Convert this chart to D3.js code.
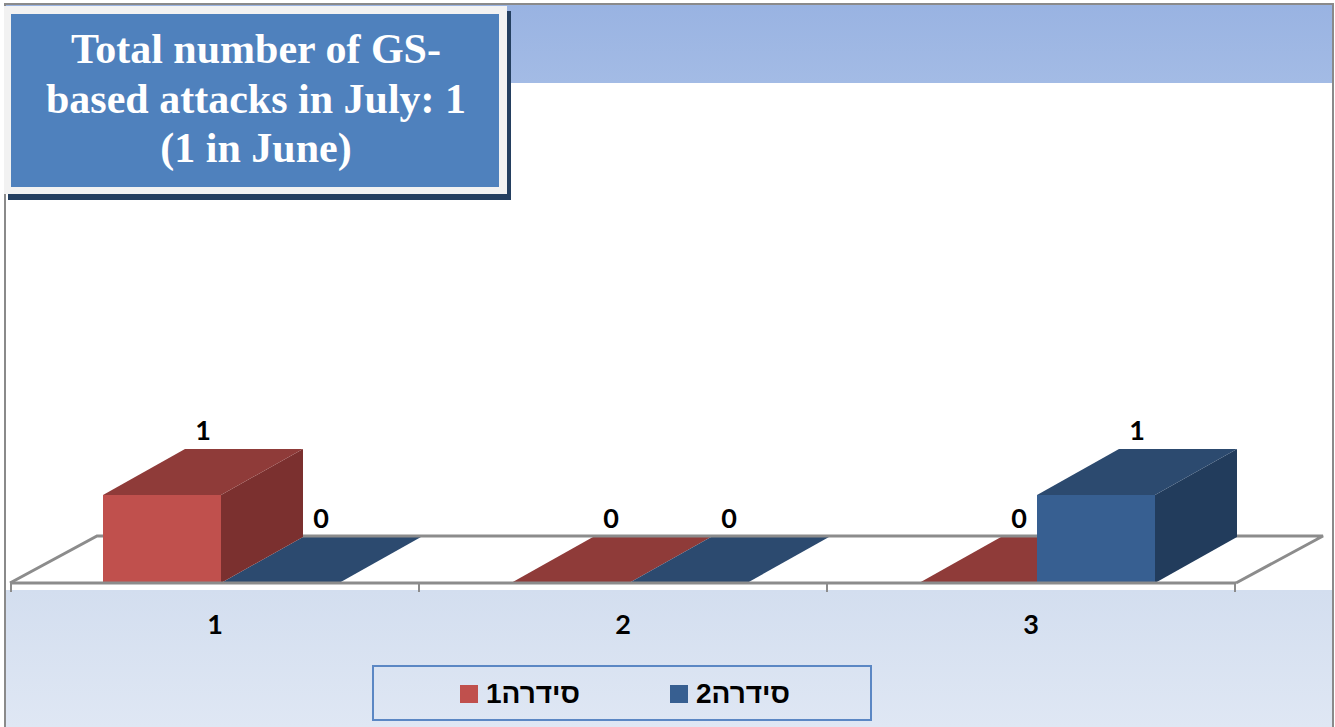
<!DOCTYPE html>
<html>
<head>
<meta charset="utf-8">
<script src="https://cdn.jsdelivr.net/npm/d3@7"></script>
<style>
  html, body { margin: 0; padding: 0; background: #ffffff; }
  svg { display: block; }
</style>
</head>
<body>
<svg id="chart" width="1335" height="727"></svg>
<script>
// ---- data ----
const categories = ["1", "2", "3"];
const seriesNames = ["סידרה1", "סידרה2"];
const series1 = [1, 0, 0];
const series2 = [0, 0, 1];
const titleLines = ["Total number of GS-", "based attacks in July: 1", "(1 in June)"];

// ---- styles ----
const faceColors = [
  { front: "#c0504d", top: "#8f3b39", side: "#7b302f" },
  { front: "#375f91", top: "#2c4a6f", side: "#223c5c" }
];
const labelFont = "Lato, 'Open Sans', sans-serif";

const svg = d3.select("#chart");
const defs = svg.append("defs");
const gTop = defs.append("linearGradient").attr("id", "gTop").attr("x1", 0).attr("y1", 0).attr("x2", 0).attr("y2", 1);
gTop.append("stop").attr("offset", "0%").attr("stop-color", "#99b3e2");
gTop.append("stop").attr("offset", "100%").attr("stop-color", "#a3bbe5");
const gBot = defs.append("linearGradient").attr("id", "gBot").attr("x1", 0).attr("y1", 0).attr("x2", 0).attr("y2", 1);
gBot.append("stop").attr("offset", "0%").attr("stop-color", "#d3deef");
gBot.append("stop").attr("offset", "100%").attr("stop-color", "#dfe7f4");

// background bands
svg.append("rect").attr("x", 6).attr("y", 5).attr("width", 1327).attr("height", 78).attr("fill", "url(#gTop)");
svg.append("rect").attr("x", 6).attr("y", 590).attr("width", 1327).attr("height", 137).attr("fill", "url(#gBot)");
// outer frame
svg.append("path").attr("d", "M5,727 V4 H1333 V727").attr("fill", "none").attr("stroke", "#8a8a8a").attr("stroke-width", 2);

// ---- scales ----
const floorY = 583;
const x0 = d3.scaleBand().domain(categories).range([11, 1235]).padding(0);
const groupW = 236;
const groupOffset = 92;
const x1 = d3.scaleBand().domain(seriesNames).range([0, groupW]).padding(0);
const y = d3.scaleLinear().domain([0, 1]).range([floorY, 495]);
const floorDepth = { dx: 87, dy: -47 };
const barDepth = { dx: 82, dy: -46 };

const gPlot = svg.append("g");

// build bar records
const bars = [];
categories.forEach((c, i) => {
  [series1, series2].forEach((vals, s) => {
    const xl = x0(c) + groupOffset + x1(seriesNames[s]);
    bars.push({ c, s, v: vals[i], xl, xr: xl + x1.bandwidth(), yt: y(vals[i]) });
  });
});

const pts = a => a.map(p => p.join(",")).join(" ");

// flat (zero) bars: top face on the floor
gPlot.selectAll("polygon.flat").data(bars.filter(b => b.v === 0)).enter()
  .append("polygon").attr("class", "flat")
  .attr("points", b => pts([[b.xl, floorY], [b.xr, floorY], [b.xr + barDepth.dx, floorY + barDepth.dy], [b.xl + barDepth.dx, floorY + barDepth.dy]]))
  .attr("fill", b => faceColors[b.s].top);

// floor outline (back + sides)
const fl = x0.range()[0] - 1, fr = x0.range()[1] + 1;
gPlot.append("path")
  .attr("d", `M${fl},${floorY} L${fl + floorDepth.dx},${floorY + floorDepth.dy} H${fr + floorDepth.dx} L${fr},${floorY}`)
  .attr("fill", "none").attr("stroke", "#8c8c8c").attr("stroke-width", 3).attr("stroke-linejoin", "miter");

// tall bars
const tall = gPlot.selectAll("g.bar").data(bars.filter(b => b.v > 0)).enter().append("g").attr("class", "bar");
tall.append("polygon")
  .attr("points", b => pts([[b.xr, floorY], [b.xr + barDepth.dx, floorY + barDepth.dy], [b.xr + barDepth.dx, b.yt + barDepth.dy], [b.xr, b.yt]]))
  .attr("fill", b => faceColors[b.s].side);
tall.append("polygon")
  .attr("points", b => pts([[b.xl, b.yt], [b.xr, b.yt], [b.xr + barDepth.dx, b.yt + barDepth.dy], [b.xl + barDepth.dx, b.yt + barDepth.dy]]))
  .attr("fill", b => faceColors[b.s].top);
tall.append("rect")
  .attr("x", b => b.xl).attr("y", b => b.yt)
  .attr("width", b => b.xr - b.xl).attr("height", b => floorY - b.yt)
  .attr("fill", b => faceColors[b.s].front);

// front floor line + ticks
gPlot.append("line").attr("x1", fl).attr("x2", fr).attr("y1", floorY).attr("y2", floorY)
  .attr("stroke", "#8c8c8c").attr("stroke-width", 3);
const tickXs = categories.map(c => x0(c)).concat([x0.range()[1]]);
gPlot.selectAll("line.tick").data(tickXs).enter().append("line").attr("class", "tick")
  .attr("x1", d => d).attr("x2", d => d).attr("y1", floorY).attr("y2", floorY + 9)
  .attr("stroke", "#8c8c8c").attr("stroke-width", 2);

// category labels
gPlot.selectAll("text.cat").data(categories).enter().append("text").attr("class", "cat")
  .attr("x", c => x0(c) + x0.bandwidth() / 2).attr("y", 634)
  .attr("text-anchor", "middle").attr("font-family", labelFont).attr("font-weight", "bold")
  .attr("font-size", 27).attr("fill", "#000").text(c => c);

// data labels
gPlot.selectAll("text.val").data(bars).enter().append("text").attr("class", "val")
  .attr("x", b => (b.xl + b.xr) / 2 + barDepth.dx / 2)
  .attr("y", b => b.yt + barDepth.dy - 9)
  .attr("text-anchor", "middle").attr("font-family", labelFont).attr("font-weight", "bold")
  .attr("font-size", 27).attr("fill", "#000").text(b => b.v);

// ---- title box ----
svg.append("rect").attr("x", 8).attr("y", 11).attr("width", 503).attr("height", 189).attr("fill", "#243f60");
svg.append("rect").attr("x", 4).attr("y", 6).attr("width", 503).attr("height", 188).attr("fill", "#f2f2f2");
svg.append("rect").attr("x", 11).attr("y", 14).attr("width", 488).attr("height", 173).attr("fill", "#4f81bd");
svg.selectAll("text.title").data(titleLines).enter().append("text").attr("class", "title")
  .attr("x", 256).attr("y", (d, i) => 63 + i * 49.5)
  .attr("text-anchor", "middle")
  .attr("font-family", "'Liberation Serif', 'Times New Roman', serif")
  .attr("font-weight", "bold").attr("font-size", 42).attr("fill", "#ffffff").text(d => d);

// ---- legend ----
const legend = svg.append("g");
legend.append("rect").attr("x", 373).attr("y", 666).attr("width", 498).attr("height", 54)
  .attr("fill", "none").attr("stroke", "#5b87c4").attr("stroke-width", 2);
const legendX = d3.scaleOrdinal().domain(seriesNames).range([460, 670]);
const li = legend.selectAll("g.item").data(seriesNames).enter().append("g").attr("class", "item");
li.append("rect").attr("x", d => legendX(d)).attr("y", 685).attr("width", 18).attr("height", 18)
  .attr("fill", (d, i) => faceColors[i].front);
li.append("text").attr("x", d => legendX(d) + 26).attr("y", 703)
  .attr("font-family", "'Liberation Sans', Arial, sans-serif").attr("font-weight", "bold")
  .attr("font-size", 28).attr("fill", "#000").text(d => d);
</script>
</body>
</html>
